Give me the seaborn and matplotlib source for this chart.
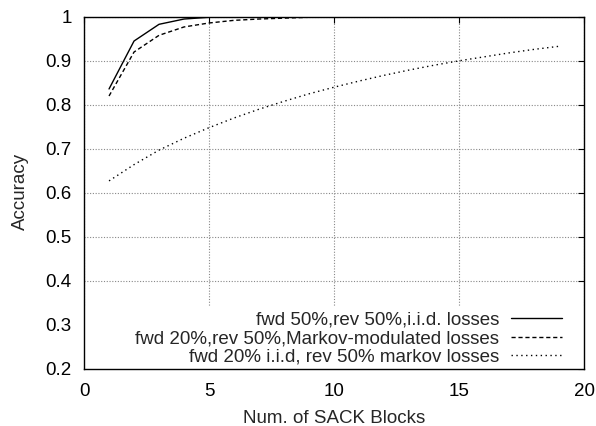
import numpy as np
import pandas as pd
import matplotlib
matplotlib.use("Agg")
import matplotlib.pyplot as plt
from matplotlib.patches import Rectangle
import seaborn as sns

sns.set_theme(style="white")
plt.rcParams['font.family'] = ['Liberation Sans', 'DejaVu Sans']

labels = ["fwd 50%,rev 50%,i.i.d. losses",
          "fwd 20%,rev 50%,Markov-modulated losses",
          "fwd 20% i.i.d, rev 50% markov losses"]

x_iid = [1, 2, 3, 4, 5, 6, 7, 8, 9, 10]
y_iid = [0.836, 0.945, 0.983, 0.995, 0.999, 1.0, 1.0, 1.0, 1.0, 1.0]

x_markov = [1, 2, 3, 4, 5, 6, 7, 8, 9, 10]
y_markov = [0.820, 0.920, 0.958, 0.977, 0.986, 0.992, 0.995, 0.997, 0.999, 1.0]

x_mixed = list(range(1, 20))
y_mixed = [0.627, 0.664, 0.697, 0.724, 0.748, 0.770, 0.790, 0.808, 0.825,
           0.840, 0.854, 0.867, 0.879, 0.890, 0.900, 0.909, 0.918, 0.926, 0.933]

xticks = [0, 5, 10, 15, 20]
yticks = [0.2, 0.3, 0.4, 0.5, 0.6, 0.7, 0.8, 0.9, 1.0]
ytick_labels = ["0.2", "0.3", "0.4", "0.5", "0.6", "0.7", "0.8", "0.9", "1"]

FS = 13.5

fig = plt.figure(figsize=(5.96, 4.26), dpi=100)
ax = fig.add_axes([0.141, 0.1345, 0.839, 0.826])

series = [(x_iid, y_iid, "-"), (x_markov, y_markov, (0, (3, 2))), (x_mixed, y_mixed, (0, (1, 2.5)))]
for (xs, ys, ls), lab in zip(series, labels):
    sns.lineplot(x=xs, y=ys, ax=ax, color="black", linewidth=1.0, label=lab)
    ax.lines[-1].set_linestyle(ls)

ax.set_xlim(0, 20)
ax.set_ylim(0.2, 1.0)
ax.set_xticks(xticks)
ax.set_xticklabels([str(t) for t in xticks])
ax.set_yticks(yticks)
ax.set_yticklabels(ytick_labels)
ax.tick_params(direction="in", top=True, right=True, length=4, width=0.8,
               colors="black", labelsize=FS)
ax.tick_params(axis="x", pad=10)
ax.tick_params(axis="y", pad=9)
ax.set_axisbelow(True)
ax.grid(True, color="#888888", linestyle=(0, (1, 1.5)), linewidth=0.8)
for s in ax.spines.values():
    s.set_color("black")
    s.set_linewidth(1.0)

ax.set_xlabel("Num. of SACK Blocks", fontsize=FS)
ax.set_ylabel("Accuracy", fontsize=FS)
ax.xaxis.set_label_coords(0.5, -0.153)
ax.xaxis.label.set_va("baseline")
ax.yaxis.set_label_coords(-0.128, 0.503)
ax.yaxis.label.set_va("center")

ax.add_patch(Rectangle((0.0, 0.0), 1.0, 0.176, transform=ax.transAxes,
                       facecolor="white", edgecolor="none", zorder=1))

leg = ax.legend(loc="lower right", frameon=False, markerfirst=False, fontsize=FS,
                handlelength=2.72, labelspacing=0.06, borderaxespad=0.0,
                handletextpad=0.62, bbox_to_anchor=(0.970, -0.012))
for t in leg.get_texts():
    t.set_ha("right")
leg._legend_box.align = "right"

fig.savefig("out.png", dpi=100)
